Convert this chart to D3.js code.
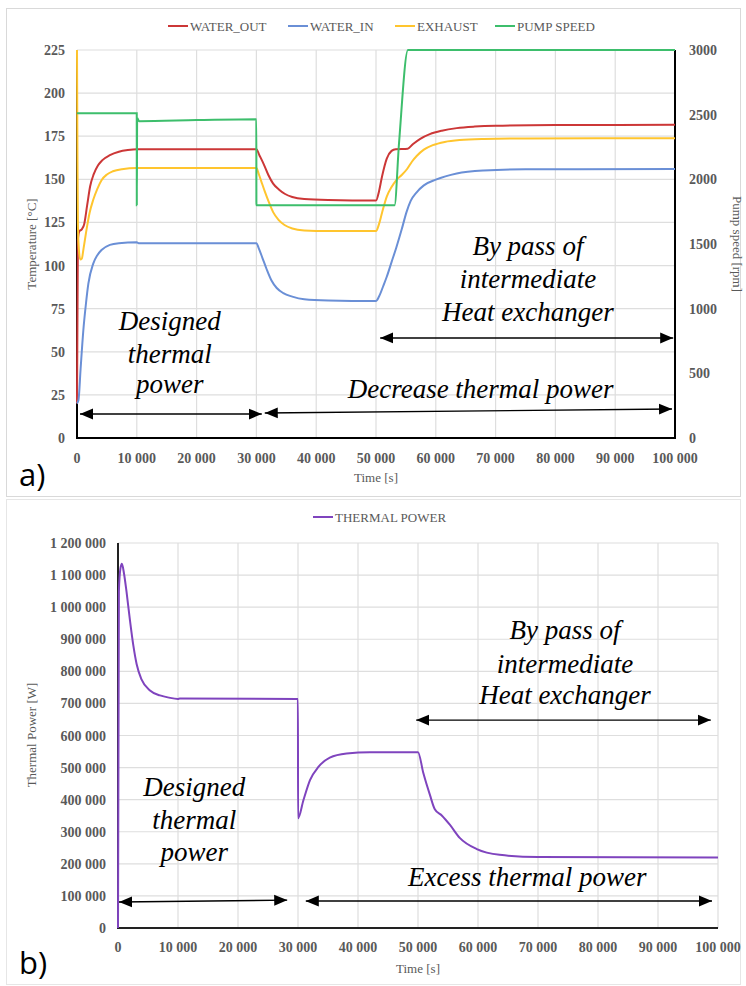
<!DOCTYPE html>
<html>
<head>
<meta charset="utf-8">
<script src="https://cdn.jsdelivr.net/npm/d3@7"></script>
<style>
  body { margin: 0; background: #fff; }
  svg { display: block; }
</style>
</head>
<body>
<div id="chart"></div>
<script>
// values, [time s, value]
const waterOut = [[0,20],[150,115],[400,120],[800,121],[1200,124],[1700,135],[2200,146],[2800,153],[3500,158],[4200,161],[5500,164],[7000,166],[8500,167],[10000,167.5],[30000,167.5],[30500,164],[31200,159],[32000,152.5],[32800,147.5],[33800,144],[34800,141.5],[36000,139.8],[38000,138.6],[42000,138],[50000,137.7],[50500,143],[51000,151.5],[51800,162],[52600,166.5],[53300,167.5],[55300,167.8],[56200,170.5],[57400,173.5],[59000,176.2],[61000,178.2],[63500,179.7],[66500,180.6],[70000,181.1],[80000,181.5],[100000,181.6]];

const waterIn = [[0,20],[250,22],[600,40],[1060,62.5],[1500,78],[1900,89.5],[2700,101],[3400,106],[4100,109],[5500,112],[7000,113],[10000,113.5],[10300,113],[30000,113],[30400,110],[31000,104.5],[31700,98],[32500,91.5],[33400,87],[34500,84],[36000,82],[38000,80.5],[42000,79.8],[50000,79.5],[50500,82],[51200,88],[51800,93.5],[52600,102],[53400,110.5],[54300,121],[55100,131],[55800,137.5],[56800,142.5],[58000,146.5],[60000,149.8],[63500,153.4],[68000,155.1],[75000,155.8],[100000,156]];

const exhaust = [[0,225],[80,160],[150,124],[300,110],[550,103.5],[800,104],[1100,110],[1600,121],[2100,130.5],[2700,138],[3400,144.5],[4100,149.5],[5000,152.8],[6000,154.7],[7500,155.9],[10000,156.5],[30000,156.5],[30400,153],[30800,149],[31400,143],[32000,137.5],[32800,131],[33700,126.5],[34700,123.5],[36000,121.5],[38000,120.4],[42000,120],[50000,120],[50500,124],[51000,130.5],[51800,140],[52600,145.5],[53400,149.6],[54300,152.5],[55200,156],[56000,160.2],[56800,163.5],[58000,167.2],[59500,169.8],[61500,171.7],[64000,172.8],[68000,173.4],[75000,173.7],[100000,173.8]];

const pumpSpeed = [[0,2510],[9990,2510],[10000,1800],[10060,2475],[10400,2450],[20000,2458],[29990,2465],[30000,1800],[53100,1800],[53850,2280],[55350,3000],[100000,3000]];

const thermalPower = [[0,0],[150,1050000],[400,1120000],[650,1135000],[1000,1105000],[1440,1045000],[2000,958000],[2560,880000],[3110,822000],[3940,774000],[5330,740000],[7000,725000],[8500,718000],[10000,714000],[10300,715000],[29990,714000],[30010,342000],[30900,398000],[32000,461000],[33400,502000],[35300,531000],[38100,544000],[42000,548000],[50000,548000],[50900,482000],[52000,414000],[52800,370000],[54000,350000],[55300,322000],[57000,280000],[59800,246000],[63600,228000],[70000,221000],[100000,220000]];

const timeTicks = [0,10000,20000,30000,40000,50000,60000,70000,80000,90000,100000];
const tempTicks = [0,25,50,75,100,125,150,175,200,225];
const rpmTicks = [0,500,1000,1500,2000,2500,3000];
const powerTicks = [0,100000,200000,300000,400000,500000,600000,700000,800000,900000,1000000,1100000,1200000];

const topSeries = [
  {name: "WATER_OUT", data: waterOut, color: "#CC3737", axis: "left"},
  {name: "WATER_IN", data: waterIn, color: "#6A8FD6", axis: "left"},
  {name: "EXHAUST", data: exhaust, color: "#FFC52E", axis: "left"},
  {name: "PUMP SPEED", data: pumpSpeed, color: "#3DBE6C", axis: "right"}
];

// annotation texts [text, time, value]
const topNotes = [["Designed",15500,62.5],["thermal",15500,43.5],["power",15500,26],
  ["By pass of",75400,106],["intermediate",75400,87],["Heat exchanger",75400,68],
  ["Decrease thermal power",67500,23]];
const topArrows = [[500,13.9,30900,13.9],[31400,14.5,99500,16.8],[50700,58,99700,58]];
const botNotes = [["Designed",12700,411000],["thermal",12700,308000],["power",12700,209000],
  ["By pass of",74500,900000],["intermediate",74500,794000],["Heat exchanger",74500,698000],
  ["Excess thermal power",68200,131000]];
const botArrows = [[170,81000,28200,87000],[31300,84000,99000,84000],[49700,648000,98800,648000]];

const W = 746, H = 986;
const locale = d3.formatLocale({decimal: ".", thousands: " ", grouping: [3], currency: ["", ""]});
const fmt = locale.format(",");
const plain = d3.format("d");
const serif = "'Liberation Serif', 'DejaVu Serif', serif";
const gray = "#595959";

const svg = d3.select("#chart").append("svg").attr("width", W).attr("height", H);

svg.append("defs").append("marker")
  .attr("id", "head").attr("viewBox", "0 0 10 10").attr("refX", 10).attr("refY", 5)
  .attr("markerWidth", 13).attr("markerHeight", 13).attr("markerUnits", "userSpaceOnUse")
  .attr("orient", "auto-start-reverse")
  .append("path").attr("d", "M0,0.8 L10,5 L0,9.2 Z").attr("fill", "#000");

// panel frames
svg.append("rect").attr("x", 6.5).attr("y", 8.5).attr("width", 734).attr("height", 488)
  .attr("fill", "none").attr("stroke", "#d9d9d9");
svg.append("rect").attr("x", 6.5).attr("y", 499.5).attr("width", 734).attr("height", 485)
  .attr("fill", "none").attr("stroke", "#e6e6e6");

function grid(g, x, y, yTicks) {
  g.selectAll(".gx").data(timeTicks.slice(1)).join("line")
    .attr("x1", d => x(d)).attr("x2", d => x(d))
    .attr("y1", y.range()[0]).attr("y2", y.range()[1])
    .attr("stroke", "#dedede").attr("stroke-width", 1.2);
  g.selectAll(".gy").data(yTicks.slice(1)).join("line")
    .attr("x1", x.range()[0]).attr("x2", x.range()[1])
    .attr("y1", d => y(d)).attr("y2", d => y(d))
    .attr("stroke", "#dedede").attr("stroke-width", 1.2);
}

function notes(g, x, y, list, arrows) {
  g.selectAll(".note").data(list).join("text")
    .attr("x", d => x(d[1])).attr("y", d => y(d[2]))
    .attr("text-anchor", "middle")
    .style("font-family", serif).style("font-style", "italic").style("font-size", "27px")
    .attr("fill", "#000").text(d => d[0]);
  g.selectAll(".arrow").data(arrows).join("line")
    .attr("x1", d => x(d[0])).attr("y1", d => y(d[1]))
    .attr("x2", d => x(d[2])).attr("y2", d => y(d[3]))
    .attr("stroke", "#000").attr("stroke-width", 1.4)
    .attr("marker-start", "url(#head)").attr("marker-end", "url(#head)");
}

function tickText(g, data, fx, fy, anchor, f) {
  g.selectAll(null).data(data).join("text")
    .attr("x", fx).attr("y", fy).attr("text-anchor", anchor)
    .style("font-family", serif).style("font-weight", "bold").style("font-size", "14px")
    .attr("fill", gray).text(d => (f || fmt)(d));
}

////// chart a) //////
const xA = d3.scaleLinear().domain([0, 100000]).range([77, 675]);
const yA = d3.scaleLinear().domain([0, 225]).range([438, 50]);
const yR = d3.scaleLinear().domain([0, 3000]).range([438, 50]);
const gA = svg.append("g");
grid(gA, xA, yA, tempTicks);

gA.append("line").attr("x1", 77).attr("x2", 77).attr("y1", yA(0)).attr("y2", yA(225)).attr("stroke", "#000").attr("stroke-width", 2);
gA.append("line").attr("x1", 675).attr("x2", 675).attr("y1", yA(0)).attr("y2", yA(225)).attr("stroke", "#000").attr("stroke-width", 2);
gA.append("line").attr("x1", 76).attr("x2", 676).attr("y1", yA(0)).attr("y2", yA(0)).attr("stroke", "#000").attr("stroke-width", 2);

topSeries.forEach(s => {
  const yy = s.axis === "left" ? yA : yR;
  const line = d3.line().x(d => xA(d[0])).y(d => yy(d[1])).curve(d3.curveMonotoneX);
  gA.append("path").datum(s.data).attr("d", line)
    .attr("fill", "none").attr("stroke", s.color).attr("stroke-width", 2);
});

tickText(gA, tempTicks, 65, d => yA(d) + 5, "end");
tickText(gA, rpmTicks, 689, d => yR(d) + 5, "start", plain);
tickText(gA, timeTicks, d => xA(d), 463, "middle");

gA.append("text").attr("x", 376).attr("y", 482).attr("text-anchor", "middle")
  .style("font-family", serif).style("font-size", "13px").attr("fill", gray).text("Time [s]");
gA.append("text").attr("transform", "translate(36,244) rotate(-90)").attr("text-anchor", "middle")
  .style("font-family", serif).style("font-size", "13px").attr("fill", gray).text("Temperature [°C]");
gA.append("text").attr("transform", "translate(733,244) rotate(90)").attr("text-anchor", "middle")
  .style("font-family", serif).style("font-size", "13px").attr("fill", gray).text("Pump speed [rpm]");

// legend a
const legX = [168, 288, 395, 495];
const legA = gA.selectAll(".leg").data(topSeries).join("g")
  .attr("transform", (d, i) => `translate(${legX[i]},26)`);
legA.append("line").attr("x1", 0).attr("x2", 20).attr("stroke", d => d.color).attr("stroke-width", 2);
legA.append("text").attr("x", 22).attr("y", 4.5)
  .style("font-family", serif).style("font-size", "13px").attr("fill", gray).text(d => d.name);

notes(gA, xA, yA, topNotes, topArrows);

svg.append("text").attr("x", 19).attr("y", 486)
  .style("font-family", "'Open Sans', sans-serif").style("font-size", "31px").attr("fill", "#000").text("a)");

////// chart b) //////
const xB = d3.scaleLinear().domain([0, 100000]).range([118, 718]);
const yB = d3.scaleLinear().domain([0, 1200000]).range([928, 543]);
const gB = svg.append("g");
grid(gB, xB, yB, powerTicks);

gB.append("line").attr("x1", 118).attr("x2", 118).attr("y1", yB(0)).attr("y2", yB(1200000)).attr("stroke", "#222").attr("stroke-width", 2);
gB.append("line").attr("x1", 117).attr("x2", 718).attr("y1", yB(0)).attr("y2", yB(0)).attr("stroke", "#222").attr("stroke-width", 2);

const lineB = d3.line().x(d => xB(d[0])).y(d => yB(d[1])).curve(d3.curveMonotoneX);
gB.append("path").datum(thermalPower).attr("d", lineB)
  .attr("fill", "none").attr("stroke", "#7F44BE").attr("stroke-width", 2);

tickText(gB, powerTicks, 106, d => yB(d) + 5, "end");
tickText(gB, timeTicks, d => xB(d), 952, "middle");

gB.append("text").attr("x", 418).attr("y", 973).attr("text-anchor", "middle")
  .style("font-family", serif).style("font-size", "13px").attr("fill", gray).text("Time [s]");
gB.append("text").attr("transform", "translate(36,735) rotate(-90)").attr("text-anchor", "middle")
  .style("font-family", serif).style("font-size", "13px").attr("fill", gray).text("Thermal Power  [W]");

const legB = gB.append("g").attr("transform", "translate(313,517)");
legB.append("line").attr("x1", 0).attr("x2", 20).attr("stroke", "#7F44BE").attr("stroke-width", 2);
legB.append("text").attr("x", 22).attr("y", 4.5)
  .style("font-family", serif).style("font-size", "13px").attr("fill", gray).text("THERMAL POWER");

notes(gB, xB, yB, botNotes, botArrows);

svg.append("text").attr("x", 19).attr("y", 974)
  .style("font-family", "'Open Sans', sans-serif").style("font-size", "31px").attr("fill", "#000").text("b)");
</script>
</body>
</html>
